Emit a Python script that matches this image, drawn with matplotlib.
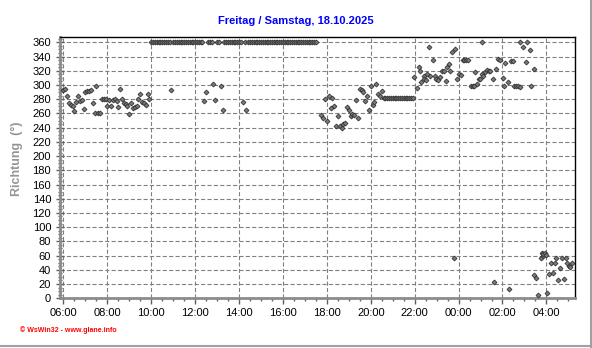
import matplotlib
matplotlib.use('Agg')
import matplotlib.pyplot as plt
from matplotlib.lines import Line2D
from matplotlib.ticker import MultipleLocator

plt.rcParams['font.family'] = ['Liberation Sans', 'DejaVu Sans']
plt.rcParams['lines.scale_dashes'] = False

# x tick labels (every 2 hours, starting 06:00)
tick_labels = ['06:00', '08:00', '10:00', '12:00', '14:00', '16:00',
               '18:00', '20:00', '22:00', '00:00', '02:00', '04:00']

# wind direction readings: minutes after 06:00 -> degrees
morning_min = [0, 5, 10, 15, 20, 25, 30, 35, 40, 45, 50, 55, 60, 65, 70, 75,
               80, 85, 90, 95, 100, 105, 110, 115, 120, 125, 130, 135, 140,
               145, 150, 155, 160, 165, 170, 175, 180, 185, 190, 195, 200,
               205, 210, 215, 220, 225, 230, 235]
morning_deg = [293, 295, 285, 275, 272, 270, 263, 276, 285, 277, 279, 266,
               290, 291, 292, 293, 275, 260, 298, 260, 260, 281, 280, 280,
               271, 279, 270, 279, 280, 277, 269, 294, 281, 275, 273, 271,
               259, 275, 267, 269, 270, 280, 287, 276, 274, 272, 287, 281]

# readings at 360 degrees
north_min = [240, 245, 250, 255, 260, 265, 270, 275, 280, 285, 290,
             300, 305, 310, 315, 320, 325, 330, 335, 340, 345, 350, 355,
             360, 365, 370, 375, 380, 395, 400, 405, 420, 425,
             440, 445, 450, 455, 460, 465, 470, 475, 480, 485, 495,
             505, 510, 515, 520, 525, 530, 535, 540, 545, 550, 555, 560,
             565, 570, 575, 580, 585, 590, 595, 600, 605, 610, 615, 620,
             625, 630, 635, 640, 645, 650, 655, 660, 665, 670, 675, 680,
             685, 690, 1144, 1249, 1266]

day_min = [295, 385, 390, 410, 415, 430, 435, 490, 500]
day_deg = [293, 277, 290, 301, 279, 298, 265, 276, 265]

evening_min = [705, 710, 715, 720, 725, 730, 735, 740, 745, 750, 755, 760,
               765, 770, 775, 780, 785, 790, 795, 800, 805, 810, 815, 820,
               825, 830, 835, 840, 845, 850, 855, 860, 865, 870]
evening_deg = [258, 253, 280, 250, 284, 268, 282, 270, 242, 256, 243, 239,
               245, 246, 269, 265, 257, 259, 258, 279, 253, 294, 293, 290,
               278, 284, 265, 298, 272, 276, 301, 287, 285, 291]

# steady period around 282 degrees
steady_min = [875, 880, 885, 890, 895, 900, 905, 910, 915, 920, 925, 930,
              935, 940, 945, 950, 955]
steady_deg = [282] * len(steady_min)

night_min = [959, 965, 971, 974, 978, 985, 986, 992, 995, 998, 1003, 1009,
             1015, 1019, 1024, 1028, 1034, 1039, 1045, 1048, 1053, 1057,
             1062, 1068, 1069, 1077, 1080, 1086, 1092, 1096, 1101, 1107,
             1114, 1119, 1123, 1126, 1130, 1135, 1139, 1144, 1148, 1153,
             1157, 1162, 1166, 1173, 1178, 1183, 1189, 1193, 1201, 1203,
             1207, 1214, 1219, 1223, 1230, 1232, 1236, 1242, 1248, 1257,
             1264, 1274, 1278, 1285, 1286, 1292, 1298, 1306, 1307, 1310,
             1312, 1316, 1319, 1323, 1328, 1333, 1339, 1343, 1346, 1353,
             1357, 1364, 1369, 1373, 1377, 1382, 1385, 1389]
night_deg = [311, 296, 326, 320, 304, 312, 308, 307, 316, 354, 313, 335,
             312, 309, 307, 311, 320, 320, 305, 326, 329, 320,
             347, 57, 350, 308, 315, 314, 335, 335, 335, 335,
             298, 299, 299, 319, 301, 308, 309, 315, 313, 319,
             321, 320, 320, 308, 23, 323, 336, 335, 310, 298,
             331, 304, 13, 334, 334, 298, 298, 298, 297, 354,
             332, 349, 298, 32, 322, 29, 5, 57, 64, 60,
             62, 64, 61, 8, 34, 49, 35, 50, 57, 26,
             43, 56, 27, 57, 49, 46, 44, 49]

minutes = (morning_min + north_min + day_min + evening_min + steady_min
           + night_min)
degrees = (morning_deg + [360] * len(north_min) + day_deg + evening_deg
           + steady_deg + night_deg)
hours = [m / 60 for m in minutes]

fig = plt.figure(figsize=(5.92, 3.48), dpi=100)
ax = fig.add_axes([59.5 / 592, (348 - 298.2) / 348,
                   (574.5 - 59.5) / 592, (298.2 - 36.7) / 348])

ax.plot(hours, degrees, linestyle='none', marker='D', markersize=2.5,
        markerfacecolor='#7a7a7a', markeredgecolor='#333333',
        markeredgewidth=0.6, zorder=3)

ax.set_xlim(-0.18, 23.28)
ax.set_ylim(0, 368)
ax.set_xticks(range(0, 24, 2))
ax.set_xticklabels(tick_labels)
ax.xaxis.set_minor_locator(MultipleLocator(0.5))
ax.set_yticks(range(0, 361, 20))
ax.yaxis.set_minor_locator(MultipleLocator(5))

ax.grid(True, which='major', color='#808080', linestyle=(0, (3, 1.6)),
        linewidth=0.8)
ax.set_axisbelow(True)

for side in ['left', 'bottom']:
    ax.spines[side].set_color('#8c8c8c')
    ax.spines[side].set_linewidth(2)
for side in ['top', 'right']:
    ax.spines[side].set_color('black')
    ax.spines[side].set_linewidth(1)

ax.tick_params(axis='x', which='major', direction='out', length=4,
               width=1, color='#606060', labelsize=8, pad=3)
ax.tick_params(axis='x', which='minor', direction='out', length=2,
               width=1, color='#606060')
ax.tick_params(axis='y', which='major', direction='inout', length=6,
               width=1, color='#606060', labelsize=8, pad=3)
ax.tick_params(axis='y', which='minor', direction='inout', length=3,
               width=1, color='#606060')

ax.set_ylabel('Richtung  (°)', color='#959595', fontsize=9,
              fontweight='bold')
ax.yaxis.set_label_coords(-0.07, 0.532)

fig.text(296 / 592, 1 - 21 / 348, 'Freitag / Samstag, 18.10.2025',
         ha='center', va='center', color='#0000ff', fontsize=8,
         fontweight='bold')
fig.text(20 / 592, 1 - 330 / 348, '© WsWin32 - www.glane.info',
         ha='left', va='center', color='#ff0000', fontsize=5,
         fontweight='bold')

# grey frame on right and bottom edge of the picture
fig.add_artist(Line2D([590.5 / 592, 590.5 / 592], [0, 1],
                      transform=fig.transFigure, color='#a0a0a0', lw=1.5))
fig.add_artist(Line2D([0, 1], [1.8 / 348, 1.8 / 348],
                      transform=fig.transFigure, color='#a0a0a0', lw=1.5))

fig.savefig('out.png', dpi=100)
